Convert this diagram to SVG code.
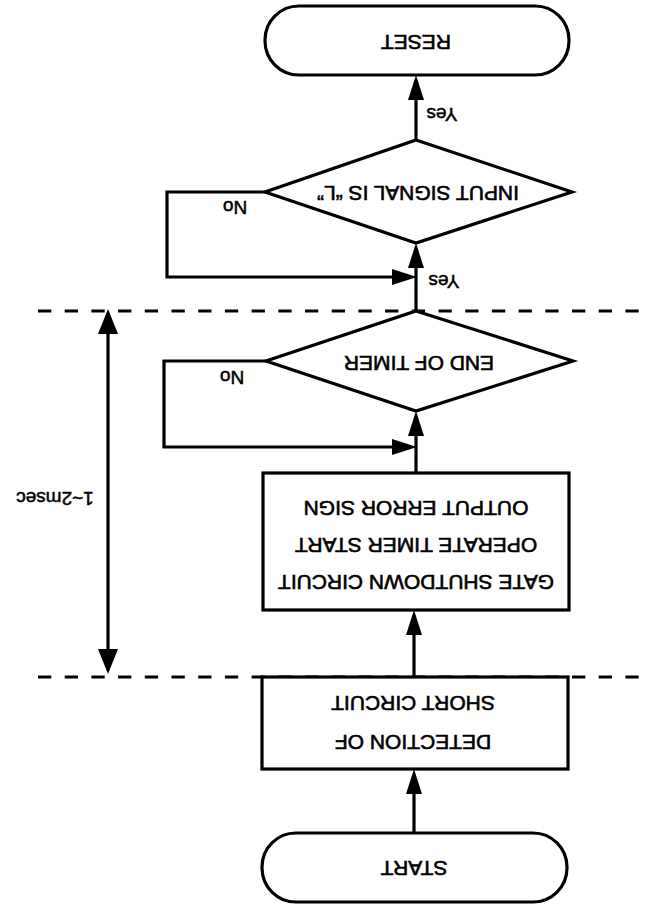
<svg xmlns="http://www.w3.org/2000/svg" width="663" height="905" viewBox="0 0 663 905">
<style>
.shape{fill:#fff;stroke:#000;stroke-width:3.2;stroke-linejoin:miter}
.conn{fill:none;stroke:#000;stroke-width:3.2}
.dash{fill:none;stroke:#000;stroke-width:3.2;stroke-dasharray:13.3 13.4}
.t{font-family:"Liberation Sans",Arial,sans-serif;font-size:21px;fill:#000;stroke:#000;stroke-width:0.6;text-anchor:middle}
.s{font-family:"Liberation Sans",Arial,sans-serif;font-size:19px;fill:#000;stroke:#000;stroke-width:0.5;text-anchor:middle}
</style>
<defs>
<marker id="ah" markerUnits="userSpaceOnUse" markerWidth="26" markerHeight="18" viewBox="0 -9 26 18" refX="0" refY="0" orient="auto" overflow="visible">
<path d="M0,-8 L25,0 L0,8 z" fill="#000"/>
</marker>
<marker id="dh" markerUnits="userSpaceOnUse" markerWidth="26" markerHeight="22" viewBox="0 -11 26 22" refX="0" refY="0" orient="auto-start-reverse" overflow="visible">
<path d="M0,-10 L25,0 L0,10 z" fill="#000"/>
</marker>
</defs>
<g id="guides">
<line class="dash" x1="38" y1="311" x2="650" y2="311"/>
<line class="dash" x1="38" y1="677" x2="650" y2="677"/>
</g>
<g id="connectors">
<path class="conn" d="M414,833 L414,794" marker-end="url(#ah)"/>
<path class="conn" d="M414,677 L414,635" marker-end="url(#ah)"/>
<path class="conn" d="M416,473 L416,436" marker-end="url(#ah)"/>
<path class="conn" d="M266,361 L164,361 L164,447 L392,447" marker-end="url(#ah)"/>
<path class="conn" d="M416,311 L416,268" marker-end="url(#ah)"/>
<path class="conn" d="M265,192 L167,192 L167,277 L392,277" marker-end="url(#ah)"/>
<path class="conn" d="M416,140 L416,100" marker-end="url(#ah)"/>
<path class="conn" d="M108,334 L108,649" marker-start="url(#dh)" marker-end="url(#dh)"/>
<text class="s" transform="rotate(180 442 115)" x="442" y="122">Yes</text>
<text class="s" transform="rotate(180 235 208)" x="235" y="215">No</text>
<text class="s" transform="rotate(180 444 282)" x="444" y="289">Yes</text>
<text class="s" transform="rotate(180 232 378)" x="232" y="385">No</text>
<text class="s" transform="rotate(180 55 499)" x="55" y="506">1~2msec</text>
</g>
<g id="start">
<rect class="shape" x="262" y="833" width="305" height="69" rx="34" ry="34"/>
<text class="t" transform="rotate(180 414 868)" x="414" y="875.5">START</text>
</g>
<g id="detection">
<rect class="shape" x="262" y="677" width="306" height="92"/>
<text class="t" transform="rotate(180 413 742)" x="413" y="749.5">DETECTION OF</text>
<text class="t" transform="rotate(180 413 703)" x="413" y="710.5">SHORT CIRCUIT</text>
</g>
<g id="gate">
<rect class="shape" x="263" y="473" width="306" height="137"/>
<text class="t" transform="rotate(180 416 582)" x="416" y="589.5">GATE SHUTDOWN CIRCUIT</text>
<text class="t" transform="rotate(180 416 545)" x="416" y="552.5">OPERATE TIMER START</text>
<text class="t" transform="rotate(180 416 508)" x="416" y="515.5">OUTPUT ERROR SIGN</text>
</g>
<g id="timer">
<polygon class="shape" points="416,311 573,361 416,411 266,361"/>
<text class="t" transform="rotate(180 419 363)" x="419" y="370.5">END OF TIMER</text>
</g>
<g id="input">
<polygon class="shape" points="416,140 572,192 416,243 265,192"/>
<text class="t" transform="rotate(180 418 193)" x="418" y="200.5">INPUT SIGNAL IS “L”</text>
</g>
<g id="reset">
<rect class="shape" x="265" y="6" width="304" height="69" rx="34" ry="34"/>
<text class="t" transform="rotate(180 416 42)" x="416" y="49.5">RESET</text>
</g>
</svg>
